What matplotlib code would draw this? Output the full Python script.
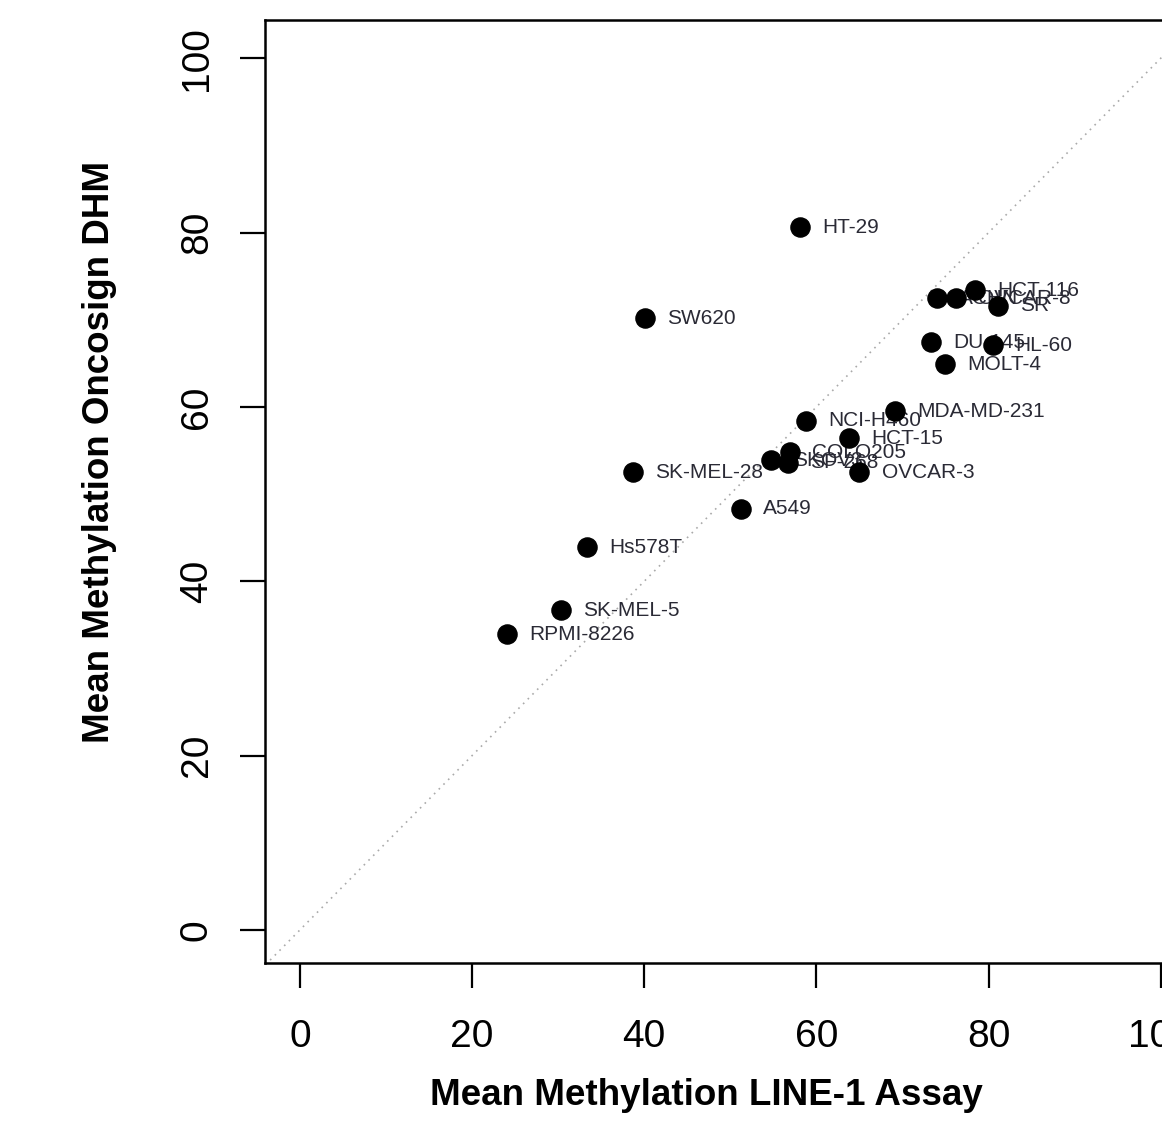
import matplotlib
matplotlib.use("Agg")
import matplotlib.pyplot as plt

# cell lines: (LINE-1 assay, Oncosign DHM)
names = [
    "HT-29", "SW620", "HCT-116", "ACHN", "OVCAR-8", "SR",
    "DU-145", "HL-60", "MOLT-4", "MDA-MD-231", "NCI-H460", "HCT-15",
    "COLO205", "SKOV3", "SF-268", "OVCAR-3", "SK-MEL-28", "A549",
    "Hs578T", "SK-MEL-5", "RPMI-8226",
]
line1 = [
    58.1, 40.1, 78.4, 74.0, 76.2, 81.1,
    73.3, 80.5, 75.0, 69.1, 58.8, 63.8,
    56.9, 54.7, 56.7, 65.0, 38.7, 51.2,
    33.3, 30.3, 24.0,
]
dhm = [
    80.6, 70.2, 73.4, 72.5, 72.5, 71.6,
    67.4, 67.1, 64.9, 59.5, 58.4, 56.4,
    54.8, 53.9, 53.6, 52.5, 52.5, 48.3,
    43.9, 36.7, 33.9,
]
ticks = [0, 20, 40, 60, 80, 100]

plt.rcParams["font.family"] = ["Liberation Sans", "DejaVu Sans"]

fig = plt.figure(figsize=(11.62, 11.22), dpi=100)
# the original is cropped on the right, so the axes run past the figure edge
ax = fig.add_axes([0.228, 0.1417, 0.801, 0.8405])

ax.plot([-10, 110], [-10, 110], linestyle=(0, (1, 3)), color="#aaaaaa",
        linewidth=1.2, zorder=1)
ax.scatter(line1, dhm, s=190, color="black", zorder=3)
for n, x, y in zip(names, line1, dhm):
    ax.annotate(n, (x, y), xytext=(16, 0), textcoords="offset points",
                ha="left", va="center", fontsize=15, color="#2a2a35",
                zorder=2)

ax.set_xlim(-4.07, 104.07)
ax.set_ylim(-3.8, 104.4)
ax.set_xticks(ticks)
ax.set_yticks(ticks)
ax.set_yticklabels([str(t) for t in ticks], rotation=90, va="center")
ax.tick_params(axis="both", length=18, width=1.6, labelsize=28)
ax.tick_params(axis="x", pad=22)
ax.tick_params(axis="y", pad=18)
for sp in ax.spines.values():
    sp.set_linewidth(1.8)

fig.text(0.608, 0.024, "Mean Methylation LINE-1 Assay", ha="center",
         va="center", fontsize=26.5, fontweight="bold")
fig.text(0.086, 0.597, "Mean Methylation Oncosign DHM", ha="center",
         va="center", rotation=90, fontsize=26.5, fontweight="bold")

fig.savefig("out.png", dpi=100)
